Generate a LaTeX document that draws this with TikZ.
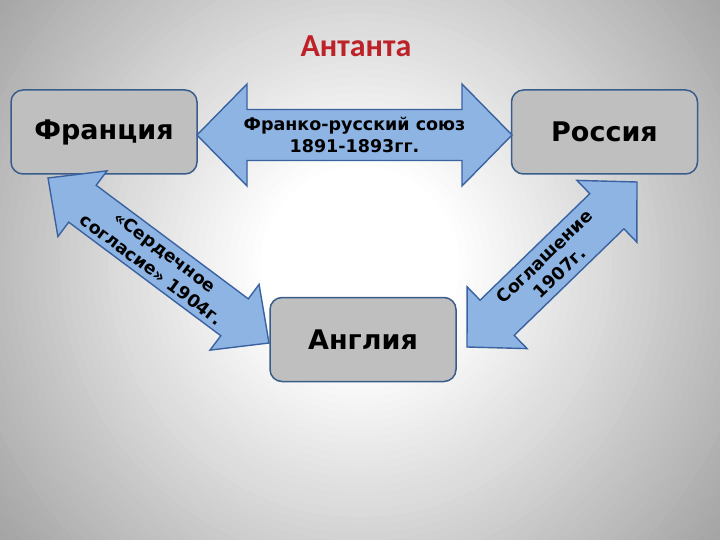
\documentclass[tikz,border=0pt]{standalone}
\usepackage{fontspec}
\setmainfont{DejaVu Sans}
\newfontfamily\titlefont{Carlito}
\usetikzlibrary{calc}
\definecolor{boxfill}{RGB}{191,191,191}
\definecolor{boxline}{RGB}{56,93,138}
\definecolor{arrfill}{RGB}{142,180,227}
\definecolor{arrline}{RGB}{58,98,160}
\definecolor{titlered}{RGB}{188,34,40}
\newcommand{\blockarrow}[5]{%
  \coordinate (#1h) at ($(#1)!#5!(#2)$);
  \coordinate (#2h) at ($(#2)!#5!(#1)$);
  \filldraw[arrowbody] (#1) -- ($(#1h)!#4!90:(#2)$) -- ($(#1h)!#3!90:(#2)$)
    -- ($(#2h)!#3!-90:(#1)$) -- ($(#2h)!#4!-90:(#1)$) -- (#2)
    -- ($(#2h)!#4!90:(#1)$) -- ($(#2h)!#3!90:(#1)$)
    -- ($(#1h)!#3!-90:(#2)$) -- ($(#1h)!#4!-90:(#2)$) -- cycle;}
\begin{document}
\begin{tikzpicture}[x=1pt,y=-1pt,
  country/.style={draw=boxline, line width=1.5pt, fill=boxfill, rounded corners=12pt,
    minimum width=186pt, minimum height=84pt, inner sep=0pt,
    font=\fontsize{27}{30}\selectfont\bfseries, text=black},
  arrowbody/.style={draw=arrline, line width=1.4pt, fill=arrfill, line join=miter},
  arrtext/.style={align=center, inner sep=0pt, font=\fontsize{17.5}{22}\selectfont\bfseries, text=black}]
\useasboundingbox (0,0) rectangle (720,540);
% background: radial grey-to-white
\begin{scope}
  \clip (0,0) rectangle (720,540);
  \fill[black!36!white] (0,0) rectangle (720,540);
  \foreach \r in {460,452,...,100} {
    \pgfmathsetmacro{\k}{(\r<=255) ? 15*(\r-100)/155 : ((\r<=360) ? 15+11*(\r-255)/105 : 26+10*(\r-360)/100)}
    \fill[black!\k!white] (360,265) circle[radius=\r];
  }
\end{scope}
% title
\node (title) at (356,46) {\titlefont\fontsize{32}{34}\selectfont\bfseries\color{titlered}Антанта};
% boxes
\node[country] (fr) at (104,132) {Франция};
\node[country] (ru) at (604.5,132) {Россия};
\node[country] (en) at (363,339.5) {Англия};
% arrow end points
\coordinate (t1) at (197,135);
\coordinate (t2) at (512,135);
\coordinate (l1) at (48,178);
\coordinate (l2) at (269,343);
\coordinate (r1) at (467,347);
\coordinate (r2) at (637,182);
\blockarrow{t1}{t2}{25.5pt}{51pt}{50pt}
\blockarrow{l1}{l2}{23pt}{41pt}{43pt}
\blockarrow{r1}{r2}{24.5pt}{43pt}{42pt}
\path (t1) -- node[arrtext] (tt) {Франко-русский союз\\1891-1893гг.} (t2);
\path (l1) -- node[arrtext, sloped] (lt) {«Сердечное\\согласие» 1904г.} (l2);
\path (r1) -- node[arrtext, sloped] (rt) {Соглашение\\1907г.} (r2);
\end{tikzpicture}
\end{document}
